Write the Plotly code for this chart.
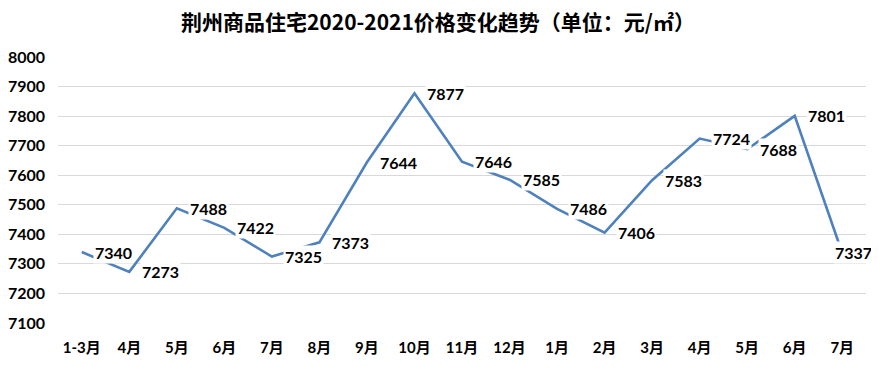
import plotly.graph_objects as go

months = ["1-3月", "4月", "5月", "6月", "7月", "8月", "9月", "10月", "11月", "12月",
          "1月", "2月", "3月", "4月", "5月", "6月", "7月"]
prices = [7340, 7273, 7488, 7422, 7325, 7373, 7644, 7877, 7646, 7585,
          7486, 7406, 7583, 7724, 7688, 7801, 7337]
y_ticks = [7100, 7200, 7300, 7400, 7500, 7600, 7700, 7800, 7900, 8000]
title_text = "荆州商品住宅2020-2021价格变化趋势（单位：元/㎡）"

xs = list(range(len(months)))
FONT = "Lato, 'Noto Sans CJK SC', sans-serif"

# page body has an 8px default margin; size the figure to fit the window
W, H = 871, 361

fig = go.Figure()
fig.add_trace(go.Scatter(x=xs, y=prices, mode="lines",
                         line=dict(color="#4F81BD", width=2.6),
                         hoverinfo="skip", showlegend=False))

annotations = []
for i, (x, v) in enumerate(zip(xs, prices)):
    shift = 11 if i < len(xs) - 1 else -9
    annotations.append(dict(
        x=x, y=v, xref="x", yref="y", text=f"<b>{v}</b>", showarrow=False,
        xanchor="left", yanchor="middle", xshift=shift,
        bgcolor="white", borderpad=1,
        font=dict(family=FONT, size=16, color="black")))

fig.update_layout(
    width=W, height=H,
    margin=dict(l=50, r=13, t=49, b=46, autoexpand=False),
    paper_bgcolor="white", plot_bgcolor="white",
    title=dict(text=f"<b>{title_text}</b>", x=430 / W, xanchor="center",
               xref="container", yref="container", y=1 - 15 / H, yanchor="middle",
               automargin=False,
               font=dict(family="'Noto Sans CJK SC', sans-serif", size=21, color="black")),
    annotations=annotations,
    xaxis=dict(tickmode="array", tickvals=xs,
               ticktext=[f"<b>{m}</b>" for m in months],
               range=[-0.5, len(xs) - 0.5], showgrid=False, zeroline=False,
               showline=False, ticks="", automargin=False, ticklabelstandoff=14,
               tickfont=dict(family=FONT, size=15, color="black")),
    yaxis=dict(range=[7100, 8000], tickmode="array", tickvals=y_ticks,
               ticktext=[f"<b>{t}</b>" for t in y_ticks],
               showgrid=True, gridcolor="#D9D9D9", gridwidth=1,
               zeroline=False, showline=False, ticks="", ticklen=0,
               automargin=False, ticklabelstandoff=12,
               tickfont=dict(family=FONT, size=16, color="black")),
)

fig.write_html("out.html")
